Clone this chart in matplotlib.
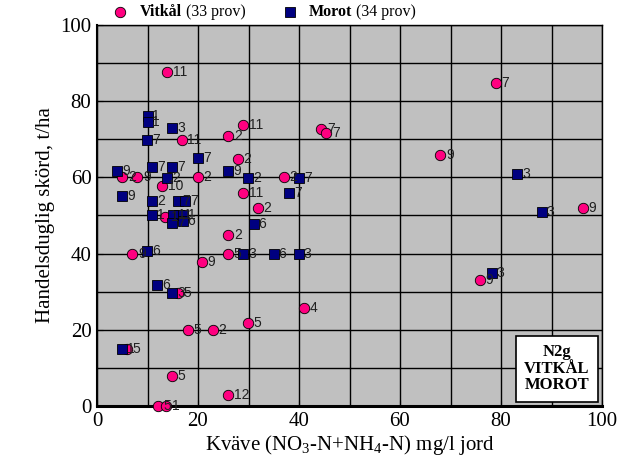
import numpy as np
import matplotlib
matplotlib.use('Agg')
import matplotlib.pyplot as plt

plt.rcParams['font.family'] = ['Liberation Serif', 'DejaVu Serif']
plt.rcParams['mathtext.fontset'] = 'custom'
plt.rcParams['mathtext.rm'] = 'Liberation Serif'
plt.rcParams['mathtext.it'] = 'Liberation Serif:italic'

# Vitkål (33 prov): kväve, skörd, etikett
vit_x = [13.9, 79, 28.9, 26, 44.4, 45.4, 16.8, 27.9, 68, 5, 8, 20, 37, 12.9, 29, 31.9, 13.5,
         26, 7, 26, 20.8, 75.8, 96.2, 16, 41, 29.9, 18, 23, 5.9, 14.9, 26, 12, 13.7]
vit_y = [87.7, 84.8, 73.8, 70.9, 72.7, 71.6, 69.8, 64.8, 66, 60, 60, 60, 60, 57.7, 56, 52, 49.6,
         44.9, 40, 40, 37.8, 33, 52, 29.7, 25.7, 21.8, 19.9, 20, 15, 7.9, 2.9, 0, 0]
vit_lab = ['11', '7', '11', '2', '7', '7', '11', '2', '9', '2', '9', '2', '2', '10', '11', '2', '1',
           '2', '9', '5', '9', '9', '9', '5', '4', '5', '5', '2', '5', '5', '12', '5', '1']

# Morot (34 prov)
mor_x = [10, 10, 14.9, 9.9, 20, 10.9, 14.9, 4, 26, 13.9, 29.9, 40, 38, 5, 10.9, 16, 17.5,
         10.9, 15, 16.3, 17, 14.9, 17, 31, 9.9, 29, 35, 40, 11.9, 14.9, 5, 83.2, 88.1, 78.2]
mor_y = [76, 74.5, 73, 69.8, 65, 62.8, 62.8, 61.8, 61.8, 59.8, 59.8, 59.8, 56, 55, 53.8, 53.8, 53.8,
         50, 50, 50, 50, 48, 48.6, 47.8, 40.7, 40, 40, 40, 31.8, 29.7, 15, 60.9, 50.9, 34.9]
mor_lab = ['1', '1', '3', '7', '7', '7', '7', '9', '9', '2', '2', '7', '7', '9', '2', '7', '7',
           '1', '1', '1', '1', '7', '6', '6', '6', '3', '6', '3', '6', '3', '1', '3', '3', '3']

pink = '#FF0080'
navy = '#000080'

fig = plt.figure(figsize=(6.25, 4.68), dpi=100)
ax = fig.add_axes([0.1552, 0.1325, 0.808, 0.8141])
ax.set_facecolor('#C0C0C0')

ax.set_xlim(0, 100)
ax.set_ylim(0, 100)
ax.set_xticks(np.arange(0, 101, 20))
ax.set_yticks(np.arange(0, 101, 20))
ax.set_xticks(np.arange(0, 101, 10), minor=True)
ax.set_yticks(np.arange(0, 101, 10), minor=True)
ax.grid(True, which='both', color='black', linewidth=1.0)
ax.set_axisbelow(True)
ax.tick_params(which='both', direction='in', length=4, labelsize=15, pad=4)
for s in ax.spines.values():
    s.set_linewidth(1.0)
ax.spines['bottom'].set_linewidth(2.2)
ax.spines['left'].set_linewidth(1.5)

ax.plot(vit_x, vit_y, 'o', ms=7.5, mfc=pink, mec='black', mew=0.6, clip_on=False, zorder=3)
for x, y, t in zip(vit_x, vit_y, vit_lab):
    ax.annotate(t, (x, y), xytext=(4, 0), textcoords='offset points', va='center', ha='left',
                fontsize=10, family='Liberation Sans', color='#202020', zorder=5, annotation_clip=False)

ax.plot(mor_x, mor_y, 's', ms=6.5, mfc=navy, mec='black', mew=0.6, clip_on=False, zorder=4)
for x, y, t in zip(mor_x, mor_y, mor_lab):
    ax.annotate(t, (x, y), xytext=(3.5, 0), textcoords='offset points', va='center', ha='left',
                fontsize=10, family='Liberation Sans', color='#202020', zorder=5, annotation_clip=False)

ax.set_xlabel('Kväve (NO$_\\mathrm{3}$-N+NH$_\\mathrm{4}$-N) mg/l jord', fontsize=15, labelpad=2)
ax.set_ylabel('Handelsduglig skörd, t/ha', fontsize=15, labelpad=4)

ax.text(0.911, 0.098, 'N2g\nVITKÅL\nMOROT', transform=ax.transAxes, ha='center', va='center',
        fontsize=12, fontweight='bold', linespacing=1.05,
        bbox=dict(boxstyle='square,pad=0.5', fc='white', ec='black', lw=1.2), zorder=6)

# legend on top
ly = 1 - 12 / 468
ax.plot([120 / 625], [ly], 'o', ms=7.5, mfc=pink, mec='black', mew=0.6,
        transform=fig.transFigure, clip_on=False)
ax.plot([290 / 625], [ly], 's', ms=6.5, mfc=navy, mec='black', mew=0.6,
        transform=fig.transFigure, clip_on=False)
renderer = fig.canvas.get_renderer()
for x0, name, rest in [(140, 'Vitkål', ' (33 prov)'), (309, 'Morot', ' (34 prov)')]:
    t1 = fig.text(x0 / 625, ly, name, fontsize=11.5, fontweight='bold', va='center', ha='left')
    bb = t1.get_window_extent(renderer)
    fig.text(bb.x1 / fig.bbox.width, ly, rest, fontsize=11.5, va='center', ha='left')

fig.savefig('out.png', dpi=100)
